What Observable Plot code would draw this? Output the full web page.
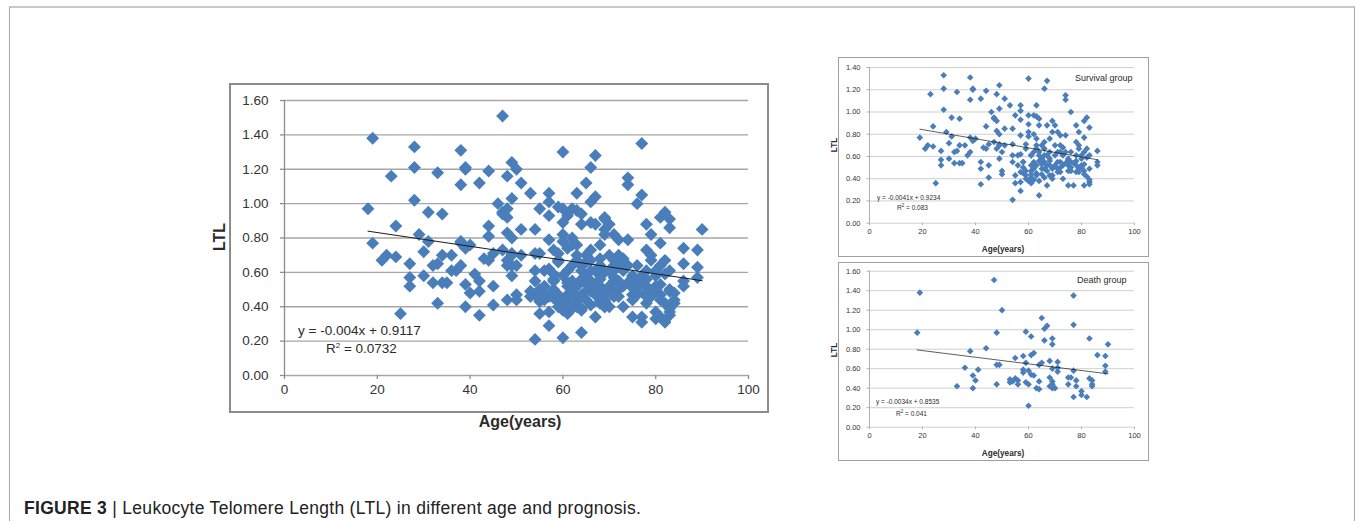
<!DOCTYPE html>
<html>
<head>
<meta charset="utf-8">
<script src="https://cdn.jsdelivr.net/npm/d3@7"></script>
<script src="https://cdn.jsdelivr.net/npm/@observablehq/plot@0.6"></script>
<style>
  html, body { margin: 0; padding: 0; background: #fff; }
  #page { position: relative; width: 1355px; height: 521px; overflow: hidden; background: #fff; font-family: "Liberation Sans", Arial, sans-serif; color: #2b2b2b; }
  .abs { position: absolute; white-space: nowrap; }
  .box { position: absolute; box-sizing: border-box; }
</style>
</head>
<body>
<div id="page">
  <div class="box" style="left:9px;top:6px;width:1346px;height:530px;border-top:2px solid #c8c8c8;border-left:1.5px solid #a8a8a8;border-right:1.5px solid #a8a8a8;"></div>

  <div class="box" style="left:229px;top:83px;width:540px;height:330px;border:2px solid #8c8c8c;"></div>
  <div class="box" style="left:838px;top:57px;width:311px;height:200px;border:1px solid #a0a0a0;"></div>
  <div class="box" style="left:838px;top:262px;width:311px;height:199px;border:1px solid #a0a0a0;"></div>

  <div id="mainChart" class="abs" style="left:200px;top:85px;"></div>
  <div id="survChart" class="abs" style="left:838px;top:57px;"></div>
  <div id="deathChart" class="abs" style="left:838px;top:262px;"></div>

  <!-- main chart texts -->
  <div class="abs" style="left:220px;top:237px;transform:translate(-50%,-50%) rotate(-90deg);font-weight:bold;font-size:16px;">LTL</div>
  <div class="abs" style="left:520px;top:422px;transform:translate(-50%,-50%);font-weight:bold;font-size:16px;">Age(years)</div>
  <div class="abs" style="left:298px;top:330px;transform:translateY(-50%);font-size:13.5px;">y = -0.004x + 0.9117</div>
  <div class="abs" style="left:326px;top:348px;transform:translateY(-50%);font-size:13.5px;">R<sup style="font-size:8px;vertical-align:5px;line-height:0">2</sup> = 0.0732</div>

  <!-- survival texts -->
  <div class="abs" style="left:834px;top:145px;transform:translate(-50%,-50%) rotate(-90deg);font-weight:bold;font-size:8.2px;">LTL</div>
  <div class="abs" style="left:1003px;top:249px;transform:translate(-50%,-50%);font-weight:bold;font-size:8.2px;">Age(years)</div>
  <div class="abs" style="left:1075px;top:78px;transform:translateY(-50%);font-size:9px;">Survival group</div>
  <div class="abs" style="left:877px;top:197px;transform:translateY(-50%);font-size:6.5px;">y = -0.0041x + 0.9234</div>
  <div class="abs" style="left:897px;top:207px;transform:translateY(-50%);font-size:6.5px;">R<sup style="font-size:4.5px;vertical-align:2.5px;line-height:0">2</sup> = 0.083</div>

  <!-- death texts -->
  <div class="abs" style="left:834px;top:350px;transform:translate(-50%,-50%) rotate(-90deg);font-weight:bold;font-size:8.2px;">LTL</div>
  <div class="abs" style="left:1003px;top:453px;transform:translate(-50%,-50%);font-weight:bold;font-size:8.2px;">Age(years)</div>
  <div class="abs" style="left:1077px;top:280px;transform:translateY(-50%);font-size:9px;">Death group</div>
  <div class="abs" style="left:876px;top:401px;transform:translateY(-50%);font-size:6.5px;">y = -0.0034x + 0.8535</div>
  <div class="abs" style="left:896px;top:413px;transform:translateY(-50%);font-size:6.5px;">R<sup style="font-size:4.5px;vertical-align:2.5px;line-height:0">2</sup> = 0.041</div>

  <!-- caption -->
  <div class="abs" style="left:24px;top:508px;transform:translateY(-50%);font-size:17.5px;letter-spacing:0.3px;color:#222;"><b>FIGURE 3</b> | Leukocyte Telomere Length (LTL) in different age and prognosis.</div>
</div>

<script>
// ---------------- data ----------------
const xTicks = [0, 20, 40, 60, 80, 100];
const mainYTicks = [0, 0.2, 0.4, 0.6, 0.8, 1.0, 1.2, 1.4, 1.6];
const survYTicks = [0, 0.2, 0.4, 0.6, 0.8, 1.0, 1.2, 1.4];
const deathYTicks = [0, 0.2, 0.4, 0.6, 0.8, 1.0, 1.2, 1.4, 1.6];

// [age (years), LTL]
const survivalPoints = [
  [19,.77],[23,1.16],[24,.87],[21,.67],[22,.70],[24,.69],[25,.36],[28,1.33],[28,1.21],[28,1.02],[29,.82],[27,.65],
  [27,.57],[27,.52],[30,.72],[30,.58],[31,.95],[31,.78],[32,.64],[33,1.18],[33,.65],[32,.54],[34,.54],[34,.94],
  [34,.70],[35,.54],[36,.70],[38,1.31],[38,1.11],[38,.77],[37,.61],[38,.64],[39,1.21],[39,1.20],[40,.76],[39,.74],
  [42,1.12],[42,.35],[42,.55],[42,.49],[44,1.19],[44,.87],[43,.68],[44,.67],[45,.52],[45,.41],[45,.71],[46,1.00],
  [47,.95],[47,.94],[48,.92],[48,.83],[49,.80],[48,1.16],[49,1.24],[49,1.03],[47,.73],[48,.67],[49,.70],[49,.71],
  [50,.64],[49,.58],[50,.47],[50,.44],[51,1.12],[51,.85],[51,.70],[53,1.06],[54,.85],[54,.71],[54,.61],[54,.55],
  [54,.21],[55,.97],[55,.36],[57,1.06],[57,1.01],[57,.93],[57,.79],[57,.29],[57,.46],[57,.62],[58,.55],[58,.50],
  [57,.37],[59,.43],[60,1.30],[60,.97],[60,.89],[60,.82],[60,.78],[61,.61],[61,.52],[61,.47],[61,.36],[62,.55],
  [62,.49],[62,.97],[63,.96],[63,.70],[63,1.06],[64,.88],[64,.61],[64,.38],[64,.25],[64,.94],[65,.70],[65,.58],
  [66,.49],[66,1.21],[67,1.28],[67,.88],[66,.67],[67,.52],[67,.34],[68,.43],[68,.76],[69,.82],[69,.92],[70,.88],
  [70,.70],[70,.61],[71,.55],[71,.46],[71,.82],[72,.70],[72,.79],[72,.64],[73,.61],[74,1.15],[74,1.11],[74,.79],
  [75,.58],[75,.47],[75,.34],[76,1.00],[76,.64],[76,.55],[77,.34],[78,.46],[78,.88],[78,.73],[79,.67],[79,.82],
  [80,.61],[80,.52],[81,.77],[81,.44],[81,.92],[82,.95],[82,.67],[83,.61],[83,.37],[83,.86],[83,.35],[83,.49],
  [86,.65],[86,.55],[86,.52],[58,.55],[59,.47],[61,.44],[63,.43],[63,.52],[65,.49],[65,.44],[66,.41],[67,.61],
  [68,.58],[68,.52],[69,.40],[69,.49],[72,.46],[73,.52],[73,.40],[75,.52],[76,.47],[78,.52],[79,.46],[80,.58],
  [81,.64],[81,.53],[82,.59],[61,.61],[62,.64],[63,.67],[64,.64],[66,.61],[59,.67],[59,.71],[56,.61],[56,.52],
  [55,.43],[74,.64],[78,.61],[79,.70],[72,.55],[73,.68],[68,.64],[71,.64],[66,.73],[63,.76],[62,.80],[58,.45],
  [59,.40],[60,.38],[61,.41],[62,.39],[63,.45],[64,.56],[65,.53],[66,.55],[67,.47],[68,.56],[69,.43],[70,.52],
  [71,.49],[72,.50],[74,.54],[75,.57],[76,.50],[77,.54],[78,.56],[79,.49],[80,.50],[81,.47],[82,.42],[83,.39],
  [81,.34]
];

const deathPoints = [
  [18,.97],[19,1.38],[47,1.51],[50,1.20],[48,.97],[59,.98],[61,.93],[65,1.12],[66,1.01],[67,1.04],[66,.89],[69,.91],
  [69,.85],[77,1.35],[77,1.05],[83,.91],[90,.85],[86,.74],[89,.73],[89,.63],[89,.57],[44,.81],[38,.78],[36,.61],
  [41,.59],[39,.53],[40,.48],[33,.42],[39,.40],[48,.64],[49,.64],[48,.44],[55,.71],[58,.73],[58,.59],[58,.56],
  [59,.66],[60,.58],[61,.74],[62,.76],[61,.54],[62,.53],[64,.64],[65,.66],[68,.68],[69,.60],[71,.67],[71,.57],
  [71,.61],[53,.49],[54,.47],[55,.50],[56,.44],[56,.48],[59,.46],[60,.44],[60,.22],[63,.40],[64,.39],[64,.47],
  [68,.51],[68,.42],[69,.47],[69,.40],[70,.40],[69,.44],[75,.51],[76,.51],[75,.44],[77,.58],[77,.31],[78,.48],
  [78,.42],[80,.37],[80,.33],[82,.31],[83,.50],[84,.48],[84,.44],[84,.42],[53,.46]
];

// regression coefficients shown in the figure: [slope, intercept]
const mainFit = [-0.004, 0.9117];
const survFit = [-0.0041, 0.9234];
const deathFit = [-0.0034, 0.8535];

// ---------------- drawing ----------------
const toPoints = pairs => pairs.map(([a, v]) => ({ age: a, ltl: v }));
const fitLine = (pairs, fit) => d3.extent(pairs, d => d[0]).map(x => ({ age: x, ltl: fit[0] * x + fit[1] }));

function scatter(o) {
  const pts = toPoints(o.pairs);
  const yMax = o.yTicks[o.yTicks.length - 1];
  const xTickLen = o.tickLen / ((o.width - o.ml - o.mr) / 100);
  const yTickLen = o.tickLen / ((o.height - o.mt - o.mb) / yMax);
  return Plot.plot({
    width: o.width,
    height: o.height,
    marginLeft: o.ml, marginRight: o.mr, marginTop: o.mt, marginBottom: o.mb,
    style: { fontFamily: "'Liberation Sans', Arial, sans-serif", fontSize: o.fontSize + "px", color: "#333", background: "transparent", overflow: "visible" },
    x: { domain: [0, 100], ticks: xTicks, tickSize: 0, tickPadding: o.padX, label: null },
    y: { domain: [0, yMax], ticks: o.yTicks, tickFormat: d3.format(".2f"), tickSize: 0, tickPadding: o.padY, label: null },
    marks: [
      Plot.ruleY(o.yTicks, { stroke: o.grid, strokeWidth: o.gridWidth }),
      Plot.ruleY(o.yTicks, { x1: -xTickLen, x2: 0, stroke: o.axis, strokeWidth: o.gridWidth }),
      Plot.ruleX(xTicks, { y1: 0, y2: -yTickLen, stroke: o.axis, strokeWidth: o.gridWidth }),
      Plot.ruleX([0], { y1: 0, y2: yMax, stroke: o.axis, strokeWidth: o.gridWidth }),
      Plot.dot(pts, { x: "age", y: "ltl", symbol: "diamond2", r: o.r, fill: "#4a7ebb", stroke: "none" }),
      Plot.line(fitLine(o.pairs, o.fit), { x: "age", y: "ltl", stroke: "#1a1a1a", strokeWidth: o.lineWidth })
    ]
  });
}

const allPoints = survivalPoints.concat(deathPoints);

document.getElementById("mainChart").appendChild(scatter({
  pairs: allPoints, fit: mainFit, yTicks: mainYTicks,
  width: 580, height: 350, ml: 84, mr: 32, mt: 15, mb: 60,
  fontSize: 13.5, padX: 9, padY: 16, tickLen: 4, r: 5.8,
  grid: "#a6a6a6", axis: "#8c8c8c", gridWidth: 1.3, lineWidth: 1
}));

document.getElementById("survChart").appendChild(scatter({
  pairs: survivalPoints, fit: survFit, yTicks: survYTicks,
  width: 311, height: 200, ml: 31, mr: 15, mt: 10, mb: 34.3,
  fontSize: 7.5, padX: 5, padY: 9, tickLen: 2.5, r: 3,
  grid: "#cfcfcf", axis: "#b0b0b0", gridWidth: 1, lineWidth: 0.7
}));

document.getElementById("deathChart").appendChild(scatter({
  pairs: deathPoints, fit: deathFit, yTicks: deathYTicks,
  width: 311, height: 198, ml: 31, mr: 15, mt: 8.7, mb: 33.3,
  fontSize: 7.5, padX: 5, padY: 9, tickLen: 2.5, r: 3,
  grid: "#cfcfcf", axis: "#b0b0b0", gridWidth: 1, lineWidth: 0.7
}));
</script>
</body>
</html>
